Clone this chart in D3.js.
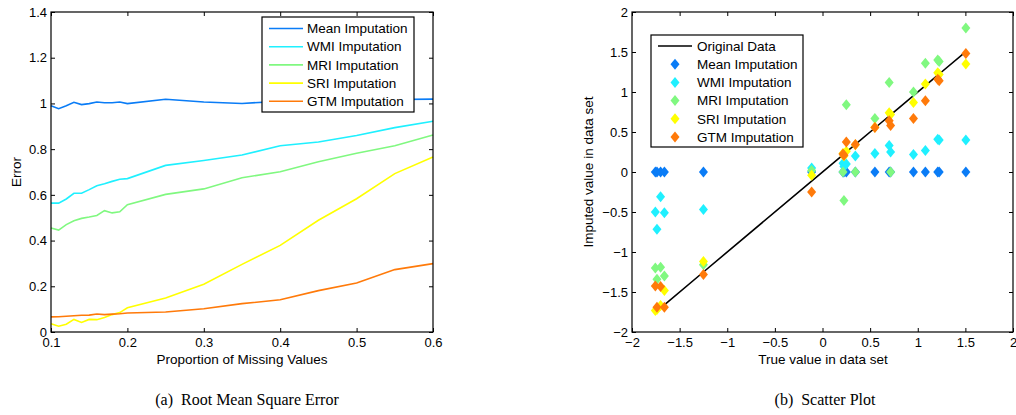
<!DOCTYPE html>
<html>
<head>
<meta charset="utf-8">
<script src="https://cdn.jsdelivr.net/npm/d3@7"></script>
<style>
  body { margin: 0; background: #fff; }
  text { font-family: "Liberation Sans", Arial, sans-serif; }
  .caption { font-family: "Liberation Serif", "Times New Roman", serif; font-size: 16px; }
</style>
</head>
<body>
<div id="chart"></div>
<script>
// ---- data: (a) RMSE vs proportion of missing values ----
const propX   = [0.10, 0.11, 0.12, 0.13, 0.14, 0.15, 0.16, 0.17, 0.18, 0.19, 0.20, 0.25, 0.30, 0.35, 0.40, 0.45, 0.50, 0.55, 0.60];
const meanErr = [0.990, 0.977, 0.990, 1.005, 0.995, 0.999, 1.006, 1.003, 1.003, 1.006, 0.999, 1.018, 1.006, 1.000, 1.009, 1.012, 1.015, 1.017, 1.019];
const wmiErr  = [0.564, 0.564, 0.582, 0.607, 0.607, 0.623, 0.640, 0.649, 0.659, 0.668, 0.671, 0.729, 0.750, 0.774, 0.815, 0.831, 0.860, 0.894, 0.922];
const mriErr  = [0.455, 0.446, 0.470, 0.487, 0.497, 0.503, 0.510, 0.531, 0.521, 0.526, 0.557, 0.602, 0.626, 0.675, 0.701, 0.745, 0.782, 0.815, 0.862];
const sriErr  = [0.036, 0.025, 0.034, 0.055, 0.042, 0.055, 0.054, 0.063, 0.076, 0.085, 0.106, 0.149, 0.209, 0.296, 0.379, 0.489, 0.583, 0.693, 0.766];
const gtmErr  = [0.066, 0.067, 0.069, 0.071, 0.073, 0.074, 0.079, 0.076, 0.078, 0.080, 0.083, 0.0875, 0.102, 0.124, 0.141, 0.181, 0.214, 0.273, 0.299];

// ---- data: (b) imputed vs true values ----
const trueVals = [-1.755, -1.738, -1.70, -1.66, -1.25, -0.114, 0.215, 0.225, 0.25, 0.345, 0.55, 0.70, 0.715, 0.955, 1.08, 1.21, 1.225, 1.505];
const meanVals = [0, 0, 0, 0, 0, 0, 0, 0, 0, 0, 0, 0, 0, 0, 0, 0, 0, 0];
const wmiVals  = [-0.50, -0.717, -0.31, -0.51, -0.47, 0.05, 0.11, 0.07, 0.10, 0.20, 0.23, 0.33, 0.25, 0.22, 0.27, 0.41, 0.40, 0.40];
const mriVals  = [-1.20, -1.34, -1.19, -1.30, -1.16, 0.02, 0.0, -0.355, 0.84, 0.0, 0.67, 1.12, 0.0, 1.0, 1.36, 1.40, 1.38, 1.80];
const sriVals  = [-1.73, -1.72, -1.67, -1.48, -1.12, -0.04, 0.23, 0.20, 0.26, 0.34, 0.56, 0.74, 0.72, 0.87, 1.10, 1.24, 1.22, 1.35];
const gtmVals  = [-1.425, -1.69, -1.43, -1.69, -1.28, -0.25, 0.225, 0.21, 0.375, 0.345, 0.555, 0.64, 0.58, 0.67, 0.89, 1.16, 1.14, 1.48];

const seriesNames = ["Mean Imputation", "WMI Imputation", "MRI Imputation", "SRI Imputation", "GTM Imputation"];
const colors = ["#0a7cf6", "#1ff0ff", "#80f880", "#ffff00", "#ff7a0a"];

const errSeries = [meanErr, wmiErr, mriErr, sriErr, gtmErr];
const impSeries = [meanVals, wmiVals, mriVals, sriVals, gtmVals];

const svg = d3.select("#chart").append("svg")
  .attr("width", 1016)
  .attr("height", 415);

const fmt = d => d3.format("~g")(d).replace("-", "\u2212");
const labelSize = 13.5;

// draws a matlab style boxed axes with inward ticks on all four sides
function drawAxes(g, x, y, xTicks, yTicks) {
  const [x0, x1] = x.range();
  const [y0, y1] = y.range();

  g.append("g")
    .attr("transform", `translate(0,${y0})`)
    .call(d3.axisBottom(x).tickValues(xTicks).tickFormat(fmt).tickSizeInner(-4).tickSizeOuter(0).tickPadding(6))
    .call(a => a.select(".domain").remove());
  g.append("g")
    .attr("transform", `translate(0,${y1})`)
    .call(d3.axisTop(x).tickValues(xTicks).tickFormat("").tickSizeInner(-4).tickSizeOuter(0))
    .call(a => a.select(".domain").remove());
  g.append("g")
    .attr("transform", `translate(${x0},0)`)
    .call(d3.axisLeft(y).tickValues(yTicks).tickFormat(fmt).tickSizeInner(-4).tickSizeOuter(0).tickPadding(4))
    .call(a => a.select(".domain").remove());
  g.append("g")
    .attr("transform", `translate(${x1},0)`)
    .call(d3.axisRight(y).tickValues(yTicks).tickFormat("").tickSizeInner(-4).tickSizeOuter(0))
    .call(a => a.select(".domain").remove());

  g.selectAll(".tick text").attr("font-size", 13).attr("fill", "#000")
    .attr("font-family", "Liberation Sans, Arial, sans-serif");
  g.selectAll(".tick line").attr("stroke", "#000");

  g.append("rect")
    .attr("x", x0).attr("y", y1)
    .attr("width", x1 - x0).attr("height", y0 - y1)
    .attr("fill", "none").attr("stroke", "#000").attr("stroke-width", 1.2);
}

const diamond = (cx, cy) => `M${cx},${cy - 5.5}L${cx + 4.5},${cy}L${cx},${cy + 5.5}L${cx - 4.5},${cy}Z`;

// ---------- (a) ----------
const gA = svg.append("g");
const xA = d3.scaleLinear().domain([0.1, 0.6]).range([51, 433]);
const yA = d3.scaleLinear().domain([0, 1.4]).range([332, 12]);

const lineA = d3.line()
  .x((d, i) => xA(propX[i]))
  .y(d => yA(d));

gA.selectAll("path.err")
  .data(errSeries)
  .enter()
  .append("path")
  .attr("class", "err")
  .attr("d", lineA)
  .attr("fill", "none")
  .attr("stroke", (d, i) => colors[i])
  .attr("stroke-width", 1.6);

drawAxes(gA, xA, yA, [0.1, 0.2, 0.3, 0.4, 0.5, 0.6], d3.range(0, 1.41, 0.2).map(v => +v.toFixed(1)));

gA.append("text")
  .attr("x", 242).attr("y", 364)
  .attr("text-anchor", "middle").attr("font-size", labelSize)
  .text("Proportion of Missing Values");
gA.append("text")
  .attr("transform", "translate(21,172) rotate(-90)")
  .attr("text-anchor", "middle").attr("font-size", labelSize)
  .text("Error");

// legend (a)
const legA = gA.append("g");
legA.append("rect")
  .attr("x", 262).attr("y", 17).attr("width", 152).attr("height", 95)
  .attr("fill", "#fff").attr("stroke", "#000").attr("stroke-width", 1.2);
seriesNames.forEach((name, i) => {
  const yy = 28.5 + i * 18.2;
  legA.append("line")
    .attr("x1", 269).attr("x2", 303).attr("y1", yy).attr("y2", yy)
    .attr("stroke", colors[i]).attr("stroke-width", 1.6);
  legA.append("text")
    .attr("x", 307).attr("y", yy).attr("dy", "0.35em")
    .attr("font-size", labelSize)
    .text(name);
});

// ---------- (b) ----------
const gB = svg.append("g");
const xB = d3.scaleLinear().domain([-2, 2]).range([632, 1013]);
const yB = d3.scaleLinear().domain([-2, 2]).range([332, 12]);

const sortedTrue = trueVals.slice().sort((a, b) => a - b);
gB.append("path")
  .datum(sortedTrue)
  .attr("d", d3.line().x(d => xB(d)).y(d => yB(d)))
  .attr("fill", "none")
  .attr("stroke", "#000")
  .attr("stroke-width", 1.6);

impSeries.forEach((vals, s) => {
  gB.selectAll(null)
    .data(vals)
    .enter()
    .append("path")
    .attr("d", (d, i) => diamond(xB(trueVals[i]), yB(d)))
    .attr("fill", colors[s]);
});

drawAxes(gB, xB, yB, d3.range(-2, 2.01, 0.5), d3.range(-2, 2.01, 0.5));

gB.append("text")
  .attr("x", 823).attr("y", 364)
  .attr("text-anchor", "middle").attr("font-size", labelSize)
  .text("True value in data set");
gB.append("text")
  .attr("transform", "translate(593,172) rotate(-90)")
  .attr("text-anchor", "middle").attr("font-size", labelSize)
  .text("Imputed value in data set");

// legend (b)
const legB = gB.append("g");
legB.append("rect")
  .attr("x", 651).attr("y", 35).attr("width", 152).attr("height", 112)
  .attr("fill", "#fff").attr("stroke", "#000").attr("stroke-width", 1.2);
legB.append("line")
  .attr("x1", 658).attr("x2", 692).attr("y1", 46).attr("y2", 46)
  .attr("stroke", "#000").attr("stroke-width", 1.6);
legB.append("text")
  .attr("x", 697).attr("y", 46).attr("dy", "0.35em").attr("font-size", labelSize)
  .text("Original Data");
seriesNames.forEach((name, i) => {
  const yy = 46 + (i + 1) * 18.2;
  legB.append("path")
    .attr("d", diamond(675, yy))
    .attr("fill", colors[i]);
  legB.append("text")
    .attr("x", 697).attr("y", yy).attr("dy", "0.35em")
    .attr("font-size", labelSize)
    .text(name);
});

// ---------- captions ----------
svg.append("text")
  .attr("class", "caption")
  .attr("x", 247).attr("y", 405)
  .attr("text-anchor", "middle")
  .style("white-space", "pre")
  .text("(a)  Root Mean Square Error");
svg.append("text")
  .attr("class", "caption")
  .attr("x", 825).attr("y", 405)
  .attr("text-anchor", "middle")
  .style("white-space", "pre")
  .text("(b)  Scatter Plot");
</script>
</body>
</html>
